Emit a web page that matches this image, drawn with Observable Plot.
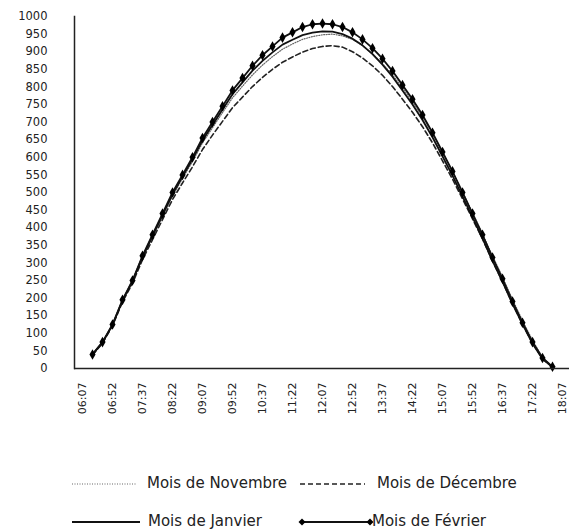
<!DOCTYPE html>
<html>
<head>
<meta charset="utf-8">
<script src="https://cdn.jsdelivr.net/npm/d3@7"></script>
<script src="https://cdn.jsdelivr.net/npm/@observablehq/plot@0.6"></script>
<style>
  html, body { margin: 0; padding: 0; background: #fff; }
  #wrap { position: relative; width: 576px; height: 531px; font-family: "DejaVu Sans", sans-serif; }
  .leg { position: absolute; font-size: 15px; color: #222; white-space: nowrap; line-height: 1; }
  .sw { position: absolute; }
</style>
</head>
<body>
<div id="wrap">
  <div id="chart"></div>
  <div id="legend"></div>
</div>
<script>
const times = ["06:07","06:22","06:37","06:52","07:07","07:22","07:37","07:52","08:07","08:22","08:37","08:52",
  "09:07","09:22","09:37","09:52","10:07","10:22","10:37","10:52","11:07","11:22","11:37","11:52",
  "12:07","12:22","12:37","12:52","13:07","13:22","13:37","13:52","14:07","14:22","14:37","14:52",
  "15:07","15:22","15:37","15:52","16:07","16:22","16:37","16:52","17:07","17:22","17:37","17:52","18:07"];

const tickLabels = ["06:07","06:52","07:37","08:22","09:07","09:52","10:37","11:22","12:07","12:52",
  "13:37","14:22","15:07","15:52","16:37","17:22","18:07"];

const yTicks = [0,50,100,150,200,250,300,350,400,450,500,550,600,650,700,750,800,850,900,950,1000];

const seriesNames = ["Mois de Novembre","Mois de Décembre","Mois de Janvier","Mois de Février"];

const novembre = [null,39,73,123,191,246,314,373,432,490,540,588,641,684,727,769,802,834,862,886,907,922,935,943,
  948,950,945,935,917,894,866,834,797,758,715,667,614,560,502,443,383,320,260,196,136,80,32,5,null];
const decembre = [null,38,72,121,189,242,309,366,423,480,527,573,622,663,702,741,771,801,827,850,870,885,899,909,
  915,917,913,900,882,860,833,801,765,728,687,641,590,538,482,425,368,305,247,184,126,72,28,4,null];
const janvier = [null,40,74,124,193,248,317,377,436,495,545,594,648,692,736,779,813,846,874,898,920,934,947,954,
  958,957,950,937,918,893,863,829,790,750,706,657,603,548,489,430,370,306,247,184,126,71,27,4,null];
const fevrier = [null,40,75,125,195,250,320,380,440,500,550,600,655,700,745,790,825,860,890,915,940,955,970,978,
  980,978,970,955,935,910,880,845,805,765,720,670,615,560,500,440,380,315,255,190,130,75,30,5,null];

function rows(arr) {
  return times.map((t, i) => ({t, v: arr[i]})).filter(d => d.v != null);
}
const dNov = rows(novembre), dDec = rows(decembre), dJan = rows(janvier), dFev = rows(fevrier);

const chart = Plot.plot({
  width: 576,
  height: 450,
  marginLeft: 74,
  marginRight: 7,
  marginTop: 16,
  marginBottom: 82,
  style: {fontFamily: "DejaVu Sans, sans-serif", fontSize: "11px", color: "#222", background: "#fff"},
  x: {type: "point", domain: times, padding: 0.5, label: null},
  y: {domain: [0, 1000], label: null},
  marks: [
    Plot.axisX({ticks: tickLabels, tickRotate: -90, tickSize: 0, tickPadding: 14, fontSize: 11, label: null}),
    Plot.axisY({ticks: yTicks, tickFormat: d => String(d), tickSize: 0, tickPadding: 27, fontSize: 11.5, label: null}),
    Plot.lineY(dNov, {x: "t", y: "v", stroke: "#666", strokeWidth: 1.2, strokeDasharray: "1,1.5"}),
    Plot.lineY(dDec, {x: "t", y: "v", stroke: "#222", strokeWidth: 1.6, strokeDasharray: "5,3"}),
    Plot.lineY(dJan, {x: "t", y: "v", stroke: "#111", strokeWidth: 1.8}),
    Plot.lineY(dFev, {x: "t", y: "v", stroke: "#111", strokeWidth: 1.8}),
    Plot.dot(dFev, {x: "t", y: "v", symbol: "diamond", r: 3.2, fill: "#000", stroke: "none"}),
    Plot.ruleY([0], {stroke: "#222", strokeWidth: 1.5}),
    Plot.frame({anchor: "left", stroke: "#222", strokeWidth: 1.5})
  ]
});
document.getElementById("chart").appendChild(chart);

// Legend
const legend = document.getElementById("legend");
const items = [
  {name: seriesNames[0], x1: 72, x2: 137, tx: 147, y: 484, dash: "1,1.5", color: "#666", w: 1.2, marker: false},
  {name: seriesNames[1], x1: 300, x2: 365, tx: 377, y: 484, dash: "5,3", color: "#222", w: 1.6, marker: false},
  {name: seriesNames[2], x1: 72, x2: 140, tx: 148, y: 522, dash: null, color: "#111", w: 1.8, marker: false},
  {name: seriesNames[3], x1: 302, x2: 370, tx: 372, y: 522, dash: null, color: "#111", w: 1.8, marker: true}
];
const ns = "http://www.w3.org/2000/svg";
for (const it of items) {
  const svg = document.createElementNS(ns, "svg");
  svg.setAttribute("class", "sw");
  svg.setAttribute("width", it.x2 - it.x1 + 10);
  svg.setAttribute("height", 12);
  svg.style.left = (it.x1 - 5) + "px";
  svg.style.top = (it.y - 6) + "px";
  const line = document.createElementNS(ns, "line");
  line.setAttribute("x1", 5); line.setAttribute("x2", it.x2 - it.x1 + 5);
  line.setAttribute("y1", 6); line.setAttribute("y2", 6);
  line.setAttribute("stroke", it.color);
  line.setAttribute("stroke-width", it.w);
  if (it.dash) line.setAttribute("stroke-dasharray", it.dash);
  svg.appendChild(line);
  if (it.marker) {
    for (const cx of [5, it.x2 - it.x1 + 5]) {
      const p = document.createElementNS(ns, "path");
      p.setAttribute("d", `M${cx},2.5 L${cx+3.5},6 L${cx},9.5 L${cx-3.5},6 Z`);
      p.setAttribute("fill", "#000");
      svg.appendChild(p);
    }
  }
  legend.appendChild(svg);
  const t = document.createElement("div");
  t.className = "leg";
  t.textContent = it.name;
  t.style.left = it.tx + "px";
  t.style.top = (it.y - 8) + "px";
  legend.appendChild(t);
}
</script>
</body>
</html>
